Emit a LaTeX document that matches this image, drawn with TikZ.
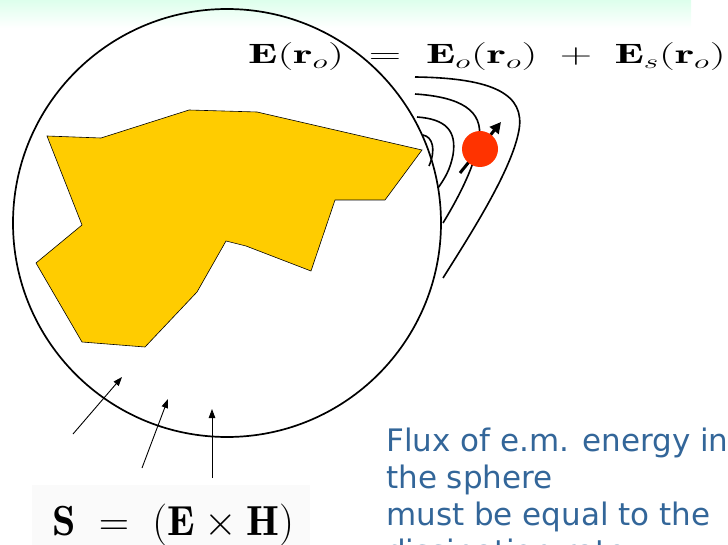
\RequirePackage{fix-cm}
\documentclass[tikz,border=0pt]{standalone}
\usepackage{fontspec}
\usepackage{tikz}
\usetikzlibrary{arrows.meta}
\newfontfamily\slidefont{DejaVu Sans}
\definecolor{bodyfill}{HTML}{FFCC00}
\definecolor{dipolered}{HTML}{FF3300}
\definecolor{slideblue}{HTML}{336699}
\definecolor{bandgreen}{HTML}{DDFFEC}
\definecolor{eqback}{HTML}{FAFAFA}

\begin{document}
\begin{tikzpicture}[x=1pt, y=-1pt,
  sphere/.style={line width=1.7pt},
  fieldline/.style={line width=1.6pt},
  poynt/.style={line width=0.9pt, -{Triangle[length=9pt,width=6.5pt]}},
  every node/.style={inner sep=0pt}]
\clip (0,0) rectangle (728,545);
\shade[top color=bandgreen, bottom color=white] (0,0) rectangle (691,28);
\fill[eqback] (32,485) rectangle (310,545);
\draw[line width=0.6pt, fill=bodyfill] (47,136) -- (101,138) -- (189,110) -- (257,112) -- (422,150) -- (385,200) -- (335,200) -- (311,271) -- (246,246) -- (226,241) -- (197,292) -- (145,347) -- (82,342) -- (36,263) -- (82,225) -- cycle;
\draw[sphere] (227,223) circle[radius=214pt];
\draw[fieldline] (415,77) .. controls (495,78) and (525,95) .. (519,130) .. controls (512,170) and (470,235) .. (443,278);
\draw[fieldline] (415,94) .. controls (460,97) and (484,110) .. (479,140) .. controls (475,165) and (460,195) .. (443,223);
\draw[fieldline] (417,117) .. controls (445,119) and (457,130) .. (453,155) .. controls (450,170) and (445,178) .. (438,188);
\draw[fieldline] (423,135) .. controls (433,137) and (436,150) .. (429,166);
\coordinate (dtail) at (460,173);
\coordinate (dhead) at (501,122);
\draw[line width=3pt, -{Triangle[length=11pt,width=11pt]}] (dtail) -- (dhead);
\fill[dipolered] (480,149) circle[radius=18pt];
\coordinate (s1a) at (73,434);
\coordinate (s1b) at (122,377);
\coordinate (s2a) at (142,468);
\coordinate (s2b) at (168,399);
\coordinate (s3a) at (212,478);
\coordinate (s3b) at (212,409);
\draw[poynt] (s1a) -- (s1b);
\draw[poynt] (s2a) -- (s2b);
\draw[poynt] (s3a) -- (s3b);
\node[anchor=base west, font=\fontsize{28}{34}\selectfont] (field) at (248,64)
  {\scalebox{1.6}[1]{$\mathbf{E}(\mathbf{r}_o) \;=\; \mathbf{E}_o(\mathbf{r}_o) \;+\; \mathbf{E}_s(\mathbf{r}_o)$}};
\node[anchor=base west, font=\fontsize{42}{50}\selectfont] (poynting) at (52,535)
  {$\mathbf{S} \;=\; (\mathbf{E}\times\mathbf{H})$};
\node[anchor=north west, align=left, text=slideblue, font=\slidefont\fontsize{31}{37}\selectfont] (flux) at (386,428)
  {Flux of e.m. energy into\\the sphere\\must be equal to the\\dissipation rate};
\end{tikzpicture}
\end{document}
